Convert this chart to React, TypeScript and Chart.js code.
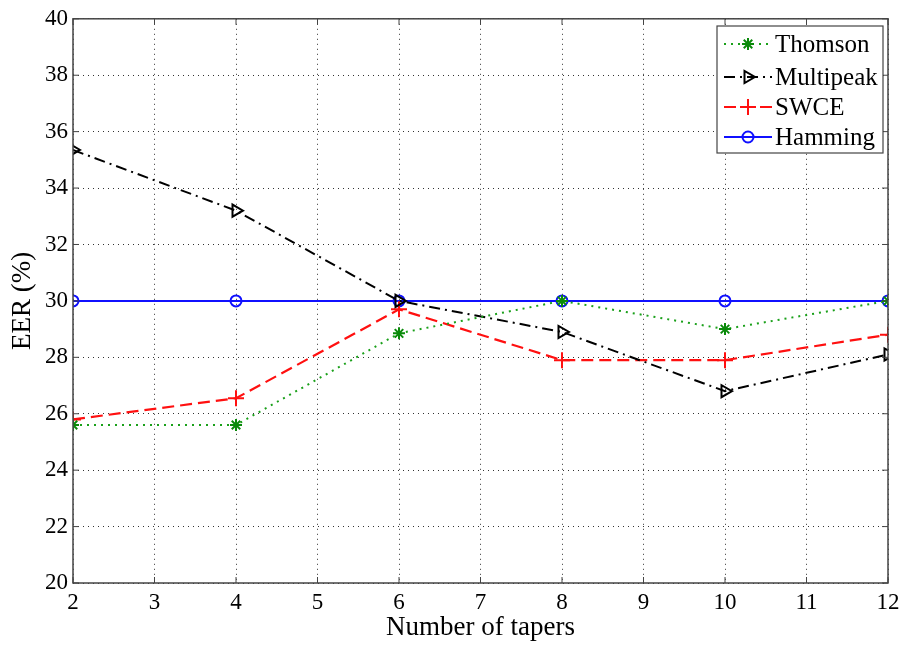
import React, { useEffect, useRef } from "react";
import { Chart, registerables } from "chart.js";
import { drawPoint } from "chart.js/helpers";

Chart.register(...registerables);

const tapers = [2, 4, 6, 8, 10, 12];
const thomson = [25.6, 25.6, 28.85, 30.0, 29.0, 30.0];
const multipeak = [35.35, 33.2, 30.0, 28.9, 26.8, 28.1];
const swce = [25.8, 26.55, 29.7, 27.9, 27.9, 28.8];
const hamming = [30.0, 30.0, 30.0, 30.0, 30.0, 30.0];

const xTicks = [2, 3, 4, 5, 6, 7, 8, 9, 10, 11, 12];
const yTicks = [20, 22, 24, 26, 28, 30, 32, 34, 36, 38, 40];
const seriesNames = ["Thomson", "Multipeak", "SWCE", "Hamming"];

const FONT = "'Liberation Serif', 'Times New Roman', serif";

const pts = (vals: number[]) => vals.map((v, i) => ({ x: tapers[i], y: v }));

const framePlugin = {
  id: "matlabFrame",
  afterDatasetsDraw(chart: any) {
    const { ctx, chartArea: a, scales } = chart;
    ctx.save();
    ctx.strokeStyle = "#444";
    ctx.lineWidth = 1.5;
    ctx.setLineDash([]);
    ctx.strokeRect(a.left, a.top, a.right - a.left, a.bottom - a.top);
    ctx.lineWidth = 1;
    const tl = 6;
    ctx.beginPath();
    xTicks.forEach((t) => {
      const x = scales.x.getPixelForValue(t);
      ctx.moveTo(x, a.bottom);
      ctx.lineTo(x, a.bottom - tl);
      ctx.moveTo(x, a.top);
      ctx.lineTo(x, a.top + tl);
    });
    yTicks.forEach((t) => {
      const y = scales.y.getPixelForValue(t);
      ctx.moveTo(a.left, y);
      ctx.lineTo(a.left + tl, y);
      ctx.moveTo(a.right, y);
      ctx.lineTo(a.right - tl, y);
    });
    ctx.stroke();

    // legend
    const bx = 717, by = 26, bw = 166, bh = 127;
    ctx.fillStyle = "#fff";
    ctx.fillRect(bx, by, bw, bh);
    ctx.strokeStyle = "#444";
    ctx.lineWidth = 1.2;
    ctx.strokeRect(bx, by, bw, bh);
    const rows = [44, 77, 107, 137];
    chart.data.datasets.forEach((ds: any, i: number) => {
      const y = rows[i];
      ctx.save();
      ctx.strokeStyle = ds.borderColor;
      ctx.lineWidth = ds.borderWidth;
      ctx.setLineDash(ds.borderDash || []);
      ctx.beginPath();
      ctx.moveTo(724, y);
      ctx.lineTo(772, y);
      ctx.stroke();
      ctx.setLineDash([]);
      ctx.strokeStyle = ds.pointBorderColor;
      ctx.fillStyle = ds.pointBackgroundColor;
      ctx.lineWidth = ds.pointBorderWidth;
      drawPoint(ctx, {
        pointStyle: ds.pointStyle,
        rotation: ds.pointRotation || 0,
        radius: ds.pointRadius,
        borderWidth: ds.pointBorderWidth,
      } as any, 748, y);
      ctx.restore();
      ctx.fillStyle = "#000";
      ctx.font = `25px ${FONT}`;
      ctx.textBaseline = "middle";
      ctx.textAlign = "left";
      ctx.fillText(seriesNames[i], 775, y + 1);
    });
    ctx.restore();
  },
};

export default function App() {
  const ref = useRef<HTMLCanvasElement | null>(null);
  useEffect(() => {
    document.body.style.margin = "0";
    const canvas = ref.current;
    if (!canvas) return;
    const chart = new Chart(canvas, {
      type: "line",
      data: {
        datasets: [
          {
            label: seriesNames[0],
            data: pts(thomson),
            borderColor: "#1aa01a",
            borderWidth: 2,
            borderDash: [2, 5],
            pointStyle: "star",
            pointRadius: 6,
            pointBorderWidth: 2,
            pointBorderColor: "#0a8a0a",
            pointBackgroundColor: "#0a8a0a",
            fill: false,
          },
          {
            label: seriesNames[1],
            data: pts(multipeak),
            borderColor: "#000",
            borderWidth: 2,
            borderDash: [11, 5, 2, 5],
            pointStyle: "triangle",
            pointRotation: 90,
            pointRadius: 7,
            pointBorderWidth: 2,
            pointBorderColor: "#000",
            pointBackgroundColor: "rgba(0,0,0,0)",
            fill: false,
          },
          {
            label: seriesNames[2],
            data: pts(swce),
            borderColor: "#ff1010",
            borderWidth: 2.2,
            borderDash: [12, 6],
            pointStyle: "cross",
            pointRadius: 8,
            pointBorderWidth: 2,
            pointBorderColor: "#ff1010",
            pointBackgroundColor: "#ff1010",
            fill: false,
          },
          {
            label: seriesNames[3],
            data: pts(hamming),
            borderColor: "#1010ff",
            borderWidth: 2,
            borderDash: [],
            pointStyle: "circle",
            pointRadius: 5.5,
            pointBorderWidth: 2,
            pointBorderColor: "#1010ff",
            pointBackgroundColor: "rgba(0,0,0,0)",
            fill: false,
          },
        ],
      },
      options: {
        animation: false,
        responsive: false,
        layout: { padding: { top: 18, right: 21, left: 0, bottom: 0 } },
        plugins: { legend: { display: false }, tooltip: { enabled: false } },
        scales: {
          x: {
            type: "linear",
            min: 2,
            max: 12,
            afterBuildTicks: (s: any) => {
              s.ticks = xTicks.map((v) => ({ value: v }));
            },
            afterFit: (s: any) => {
              s.height = 62;
            },
            grid: { color: "#333", lineWidth: 1, drawTicks: false },
            border: { display: false, dash: [1, 4] },
            ticks: {
              color: "#000",
              font: { family: FONT, size: 23 },
              padding: 6,
              maxRotation: 0,
            },
            title: {
              display: true,
              text: "Number of tapers",
              color: "#000",
              font: { family: FONT, size: 27 },
              padding: { top: 0, bottom: 1 },
            },
          },
          y: {
            type: "linear",
            min: 20,
            max: 40,
            afterBuildTicks: (s: any) => {
              s.ticks = yTicks.map((v) => ({ value: v }));
            },
            afterFit: (s: any) => {
              s.width = 73;
            },
            grid: { color: "#333", lineWidth: 1, drawTicks: false },
            border: { display: false, dash: [1, 4] },
            ticks: {
              color: "#000",
              font: { family: FONT, size: 23 },
              padding: 5,
            },
            title: {
              display: true,
              text: "EER (%)",
              color: "#000",
              font: { family: FONT, size: 27 },
              padding: { top: 7, bottom: 0 },
            },
          },
        },
      },
      plugins: [framePlugin],
    } as any);
    return () => chart.destroy();
  }, []);
  return (
    <div style={{ width: 909, height: 645 }}>
      <canvas ref={ref} width={909} height={645} style={{ display: "block" }} />
    </div>
  );
}
